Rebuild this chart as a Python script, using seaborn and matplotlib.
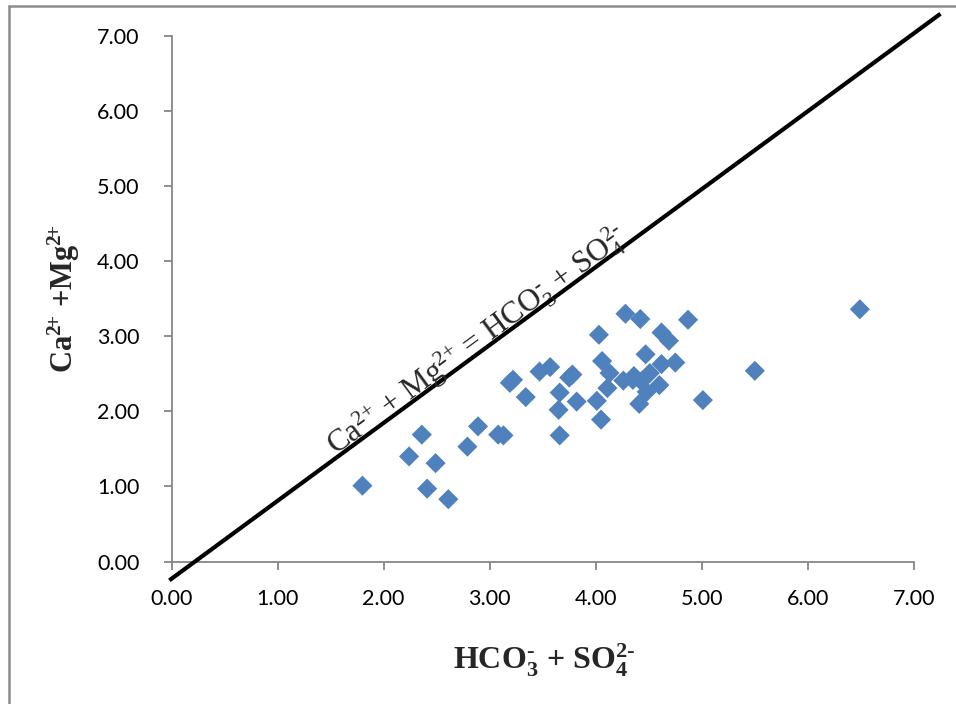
import matplotlib
matplotlib.use("Agg")
import matplotlib.pyplot as plt
from matplotlib.lines import Line2D
import numpy as np
import pandas as pd
import seaborn as sns

# Sample measurements (meq/L)
hco3_so4 = [1.80, 2.24, 2.36, 2.41, 2.49, 2.61, 2.79, 2.89, 3.08, 3.13,
            3.19, 3.22, 3.34, 3.47, 3.57, 3.65, 3.66, 3.66, 3.75, 3.78,
            3.82, 4.01, 4.03, 4.05, 4.06, 4.11, 4.13, 4.28, 4.26, 4.35,
            4.36, 4.42, 4.43, 4.41, 4.47, 4.48, 4.51, 4.60, 4.62, 4.62,
            4.69, 4.75, 4.87, 5.01, 5.50, 6.49]
ca_mg = [1.01, 1.40, 1.69, 0.97, 1.31, 0.83, 1.53, 1.80, 1.69, 1.68,
         2.38, 2.42, 2.19, 2.53, 2.59, 2.02, 2.25, 1.68, 2.45, 2.49,
         2.13, 2.14, 3.02, 1.89, 2.67, 2.31, 2.51, 3.30, 2.41, 2.42,
         2.47, 3.23, 2.40, 2.10, 2.76, 2.26, 2.51, 2.35, 3.05, 2.63,
         2.94, 2.65, 3.22, 2.15, 2.54, 3.36]

# Reference line Ca + Mg = HCO3 + SO4 as drawn on the chart
line_x = [-0.02, 7.25]
line_slope = 1.038
line_icpt = -0.23

tick_values = [0, 1, 2, 3, 4, 5, 6, 7]

sns.set_theme(style="white")
plt.rcParams["mathtext.fontset"] = "custom"
plt.rcParams["mathtext.rm"] = "Liberation Serif"
plt.rcParams["mathtext.it"] = "Liberation Serif:italic"
plt.rcParams["mathtext.bf"] = "Liberation Serif:bold"

df = pd.DataFrame({"x": hco3_so4, "y": ca_mg})

fig = plt.figure(figsize=(9.56, 7.04), dpi=100)
ax = fig.add_axes([0.1794, 0.2024, 0.956 - 0.1794, 0.9489 - 0.2024])

sns.scatterplot(data=df, x="x", y="y", marker="D", s=105, color="#4F81BD",
                edgecolor="none", ax=ax, zorder=3)

lx = np.array(line_x)
ax.plot(lx, line_slope * lx + line_icpt, color="black", lw=3, clip_on=False,
        zorder=4, solid_capstyle="butt")

ax.set_xlim(0, 7)
ax.set_ylim(0, 7)
ax.set_xticks(tick_values)
ax.set_yticks(tick_values)
ax.set_xticklabels([f"{v:.2f}" for v in tick_values])
ax.set_yticklabels([f"{v:.2f}" for v in tick_values])
ax.tick_params(axis="both", which="major", direction="out", length=6,
               width=1.3, color="#868686", labelsize=15.5,
               left=True, bottom=True)
ax.tick_params(axis="x", pad=14)
ax.tick_params(axis="y", pad=17)
for lab in ax.get_xticklabels() + ax.get_yticklabels():
    lab.set_family("Lato")
    lab.set_color("black")
for side in ["top", "right"]:
    ax.spines[side].set_visible(False)
for side in ["left", "bottom"]:
    ax.spines[side].set_color("#868686")
    ax.spines[side].set_linewidth(1.3)
ax.set_xlabel("")
ax.set_ylabel("")

# Annotation along the 1:1 line
tx = 2.94
ax.text(tx, line_slope * tx + line_icpt + 0.02,
        r"Ca$^{\text{2+}}$ + Mg$^{\text{2+}}$ = HCO$_3^{\text{-}}$ + SO$_4^{\text{2-}}$",
        family="Liberation Serif", fontsize=22.5, rotation=36.3,
        rotation_mode="anchor", ha="center", va="baseline", zorder=5)

# Axis titles
fig.text(544 / 956, 1 - 660 / 704,
         r"HCO$_\mathbf{3}^{\text{-}}$ + SO$_\mathbf{4}^{\mathbf{2}\text{-}}$",
         family="Liberation Serif", fontweight="bold", fontsize=23,
         ha="center", va="center")
fig.text(64 / 956, 1 - 299 / 704,
         r"Ca$^{\mathbf{2}\!\mathbf{+}}$ +Mg$^{\mathbf{2}\!\mathbf{+}}$",
         family="Liberation Serif", fontweight="bold", fontsize=22,
         rotation=90, ha="center", va="center")

# Chart-area frame (top and left edges visible)
fig.add_artist(Line2D([9 / 956, 9 / 956], [0, 1 - 6 / 704],
                      transform=fig.transFigure, color="#8c8c8c", lw=1.8))
fig.add_artist(Line2D([9 / 956, 1], [1 - 6 / 704, 1 - 6 / 704],
                      transform=fig.transFigure, color="#8c8c8c", lw=1.8))

fig.savefig("out.png", dpi=100, facecolor="white")
